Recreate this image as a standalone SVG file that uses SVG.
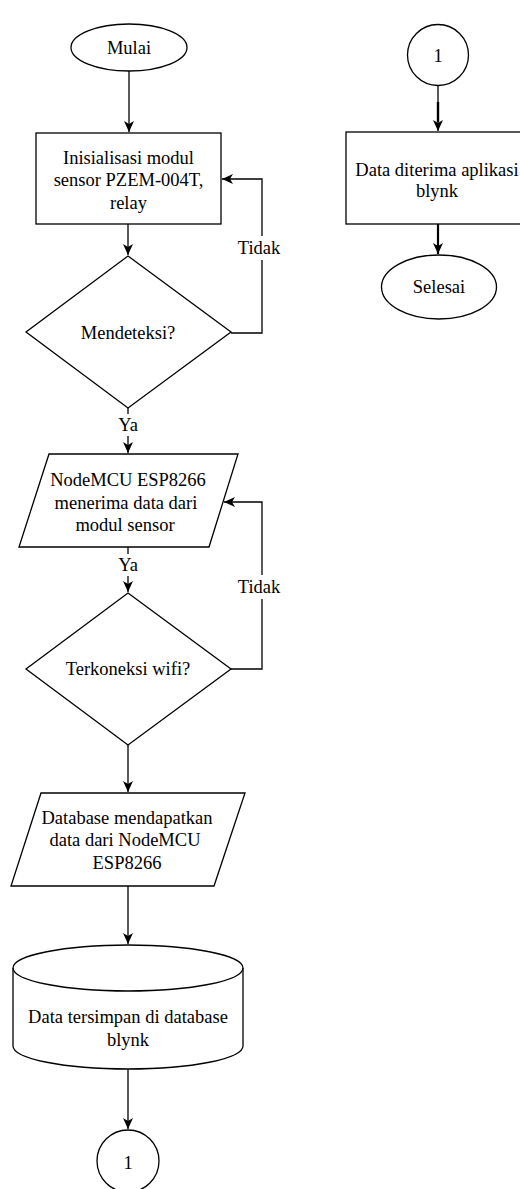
<svg xmlns="http://www.w3.org/2000/svg" width="520" height="1189" viewBox="0 0 520 1189">
<style>
.s{fill:#fff;stroke:#000;stroke-width:1.3}
.t{font-size:18.5px;fill:#000;text-anchor:middle}
.c{fill:none;stroke:#000;stroke-width:1.3}
.lb{fill:#fff;stroke:none}
</style>
<defs>
<marker id="ah" markerUnits="userSpaceOnUse" markerWidth="14" markerHeight="12" viewBox="-12 -6 14 12" refX="0" refY="0" orient="auto">
<path d="M0,0 L-11,-5 L-8,0 L-11,5 Z" fill="#000"/>
</marker>
</defs>
<rect width="520" height="1189" fill="#fff"/>
<g font-family="'Liberation Serif', Tinos, 'Times New Roman', 'DejaVu Serif', serif">
<g id="connectors">
<line class="c" x1="129" y1="71" x2="129" y2="132" marker-end="url(#ah)"/>
<line class="c" x1="128" y1="224" x2="128" y2="255" marker-end="url(#ah)"/>
<polyline class="c" points="231,333 262,333 262,179 222,179" marker-end="url(#ah)"/>
<rect class="lb" x="236" y="236" width="46" height="24"/>
<text class="t" x="259" y="254">Tidak</text>
<line class="c" x1="128" y1="408" x2="128" y2="453" marker-end="url(#ah)"/>
<rect class="lb" x="116" y="414" width="24" height="22"/>
<text class="t" x="128" y="431">Ya</text>
<line class="c" x1="128" y1="547" x2="128" y2="592" marker-end="url(#ah)"/>
<rect class="lb" x="116" y="554" width="24" height="22"/>
<text class="t" x="128" y="571">Ya</text>
<polyline class="c" points="231,669 262,669 262,502 224,502" marker-end="url(#ah)"/>
<rect class="lb" x="236" y="575" width="46" height="24"/>
<text class="t" x="259" y="593">Tidak</text>
<line class="c" x1="128" y1="745" x2="128" y2="792" marker-end="url(#ah)"/>
<line class="c" x1="128" y1="886" x2="128" y2="944" marker-end="url(#ah)"/>
<line class="c" x1="128" y1="1069" x2="128" y2="1129" marker-end="url(#ah)"/>
<line class="c" x1="438" y1="85" x2="438" y2="131" marker-end="url(#ah)"/>
<line x1="438" y1="102" x2="438" y2="122" stroke="#000" stroke-width="2.4"/>
<line class="c" x1="438" y1="224" x2="438" y2="254" marker-end="url(#ah)" style="stroke-width:2.2"/>
</g>
<g id="mulai">
<ellipse class="s" cx="129" cy="47.5" rx="58" ry="23.5"/>
<text class="t" x="129" y="53.5">Mulai</text>
</g>
<g id="inisialisasi">
<rect class="s" x="36" y="133" width="185" height="91"/>
<text class="t" x="128.5" y="164">Inisialisasi modul</text>
<text class="t" x="128.5" y="186">sensor PZEM-004T,</text>
<text class="t" x="128.5" y="209">relay</text>
</g>
<g id="mendeteksi">
<polygon class="s" points="128,256 231,332 128,408 26,332"/>
<text class="t" x="128" y="339">Mendeteksi?</text>
</g>
<g id="nodemcu">
<polygon class="s" points="49,454 238,454 209,547 19,547"/>
<text class="t" x="128" y="486">NodeMCU ESP8266</text>
<text class="t" x="126" y="509">menerima data dari</text>
<text class="t" x="125" y="531">modul sensor</text>
</g>
<g id="wifi">
<polygon class="s" points="128,593 231,669 128,745 26,669"/>
<text class="t" x="128" y="675">Terkoneksi wifi?</text>
</g>
<g id="database">
<polygon class="s" points="41,793 245,793 214,886 11,886"/>
<text class="t" x="127" y="824">Database mendapatkan</text>
<text class="t" x="125" y="846">data dari NodeMCU</text>
<text class="t" x="127" y="869">ESP8266</text>
</g>
<g id="tersimpan">
<path class="s" d="M13,968 A115,23 0 0 1 243,968 L243,1046 A115,23 0 0 1 13,1046 Z"/>
<path class="c" d="M13,968 A115,23 0 0 0 243,968"/>
<text class="t" x="128" y="1023">Data tersimpan di database</text>
<text class="t" x="128" y="1046">blynk</text>
</g>
<g id="konektor1-bawah">
<circle class="s" cx="128" cy="1161" r="31"/>
<text class="t" x="128" y="1169">1</text>
</g>
<g id="konektor1-atas">
<circle class="s" cx="438" cy="55" r="30.5"/>
<text class="t" x="438" y="62">1</text>
</g>
<g id="diterima">
<rect class="s" x="346" y="132" width="184" height="92"/>
<text class="t" x="437" y="176">Data diterima aplikasi</text>
<text class="t" x="437" y="197">blynk</text>
</g>
<g id="selesai">
<ellipse class="s" cx="439" cy="287" rx="57.5" ry="32"/>
<text class="t" x="439" y="293">Selesai</text>
</g>
</g>
</svg>
